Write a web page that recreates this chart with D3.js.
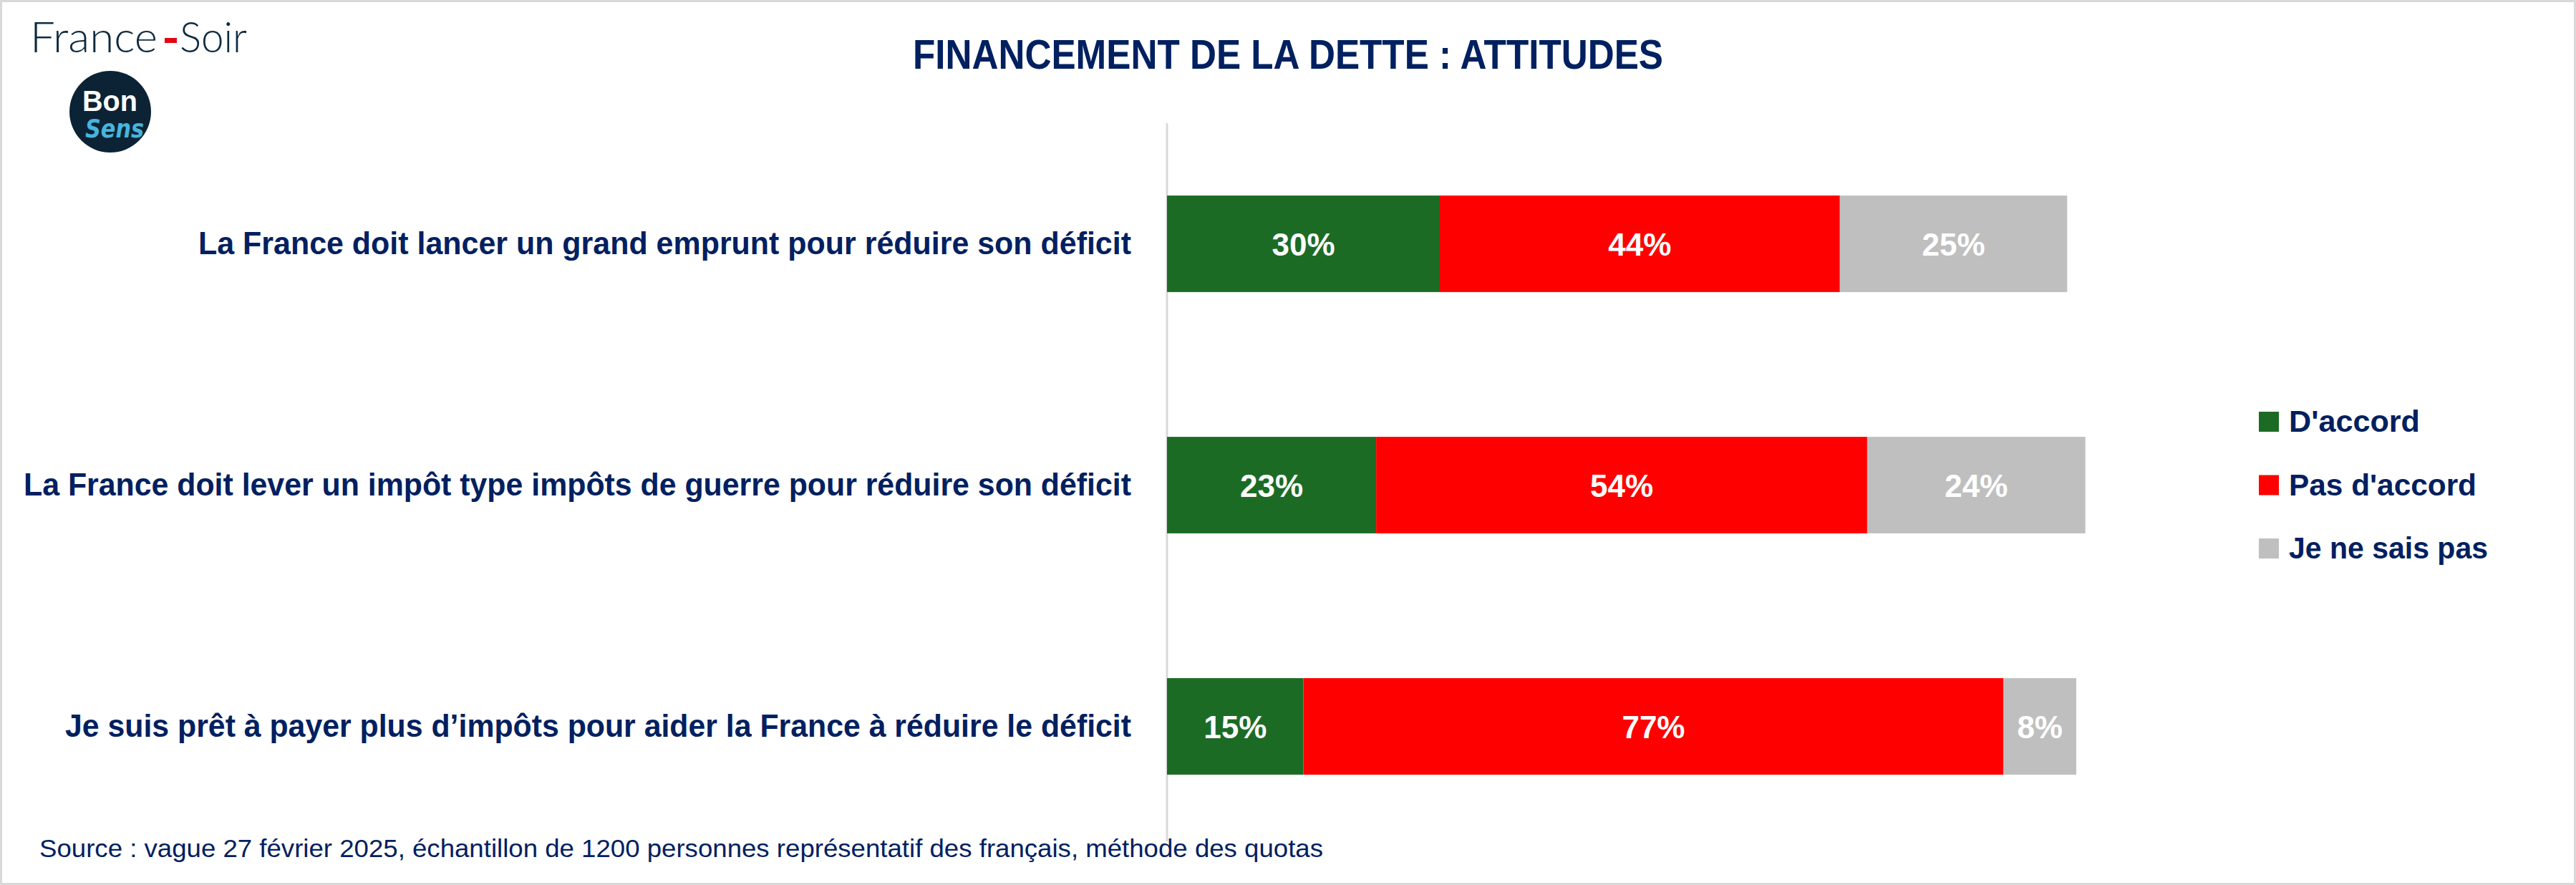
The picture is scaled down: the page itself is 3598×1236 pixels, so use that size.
<!DOCTYPE html>
<html>
<head>
<meta charset="utf-8">
<script src="https://cdn.jsdelivr.net/npm/d3@7"></script>
<style>
  html, body { margin: 0; padding: 0; background: #ffffff; }
  svg { display: block; }
</style>
</head>
<body>
<svg id="chart" width="3598" height="1236"></svg>
<script>
// ---------- DATA ----------
const categories = [
  "La France doit lancer un grand emprunt pour réduire son déficit",
  "La France doit lever un impôt type impôts de guerre pour réduire son déficit",
  "Je suis prêt à payer plus d’impôts pour aider la France à réduire le déficit"
];
const seriesNames = ["D'accord", "Pas d'accord", "Je ne sais pas"];
const daccord = [30, 23, 15];
const pasDaccord = [44, 54, 77];
const neSaisPas = [25, 24, 8];
const titleText = "FINANCEMENT DE LA DETTE : ATTITUDES";
const sourceText = "Source : vague 27 février 2025, échantillon de 1200 personnes représentatif des français, méthode des quotas";

// ---------- STYLE ----------
const colors = ["#1c6b25", "#ff0000", "#bfbfbf"];
const navy = "#002060";
const W = 3598, H = 1236;

const svg = d3.select("#chart");

function fit(sel, target) {
  sel.each(function () {
    const len = this.getComputedTextLength();
    if (Math.abs(len - target) > 2) {
      d3.select(this).attr("textLength", target).attr("lengthAdjust", "spacingAndGlyphs");
    }
  });
}

// background + border
svg.append("rect").attr("x", 0).attr("y", 0).attr("width", W).attr("height", H).attr("fill", "#fff");
svg.append("rect").attr("x", 1.5).attr("y", 1.5).attr("width", W - 3).attr("height", H - 3)
  .attr("fill", "none").attr("stroke", "#d9d9d9").attr("stroke-width", 3);

// ---------- LOGO ----------
const logo = svg.append("g");
const lf = "Lato, 'Open Sans', 'DejaVu Sans', sans-serif";
logo.append("text").attr("x", 42).attr("y", 73).attr("font-family", lf).attr("font-weight", 300)
  .attr("font-size", 60).attr("fill", "#0e2a3f").text("France").call(fit, 178);
logo.append("rect").attr("x", 230).attr("y", 53).attr("width", 17).attr("height", 7).attr("fill", "#e30613");
logo.append("text").attr("x", 251).attr("y", 73).attr("font-family", lf).attr("font-weight", 300)
  .attr("font-size", 60).attr("fill", "#0e2a3f").text("Soir").call(fit, 94);
logo.append("circle").attr("cx", 154).attr("cy", 156).attr("r", 57).attr("fill", "#0b2334");
logo.append("text").attr("x", 115).attr("y", 155).attr("font-family", "'Liberation Sans', Arial, sans-serif")
  .attr("font-weight", 700).attr("font-size", 41).attr("fill", "#ffffff").text("Bon").call(fit, 77);
logo.append("text").attr("x", 119).attr("y", 192).attr("font-family", "'DejaVu Sans', sans-serif")
  .attr("font-style", "italic").attr("font-weight", 700).attr("font-size", 36).attr("fill", "#48b4de")
  .text("Sens").call(fit, 82);

// ---------- TITLE ----------
svg.append("text").attr("x", W / 2).attr("y", 96).attr("text-anchor", "middle")
  .attr("font-family", "'Liberation Sans Narrow', 'Liberation Sans', Arial, sans-serif")
  .attr("font-weight", 700).attr("font-size", 58).attr("fill", navy)
  .text(titleText).call(fit, 1048);

// ---------- SCALES ----------
const x = d3.scaleLinear().domain([0, 100]).range([1630, 2900]);
const y = d3.scaleBand().domain(categories).range([172, 1183]).paddingInner(0.6).paddingOuter(0.3);

const table = categories.map((c, i) => ({
  cat: c, [seriesNames[0]]: daccord[i], [seriesNames[1]]: pasDaccord[i], [seriesNames[2]]: neSaisPas[i]
}));
const stacked = d3.stack().keys(seriesNames)(table);

// axis line
svg.append("line").attr("x1", x(0)).attr("x2", x(0)).attr("y1", 172).attr("y2", 1175)
  .attr("stroke", "#d9d9d9").attr("stroke-width", 3);

// bars
const layers = svg.append("g").selectAll("g").data(stacked).join("g")
  .attr("fill", (d, i) => colors[i]);
layers.selectAll("rect").data(d => d).join("rect")
  .attr("x", d => x(d[0]))
  .attr("y", d => y(d.data.cat))
  .attr("width", d => x(d[1]) - x(d[0]))
  .attr("height", y.bandwidth());

// value labels
layers.selectAll("text").data(d => d).join("text")
  .attr("x", d => (x(d[0]) + x(d[1])) / 2)
  .attr("y", d => y(d.data.cat) + y.bandwidth() / 2 + 16)
  .attr("text-anchor", "middle")
  .attr("font-family", "'Liberation Sans', Arial, sans-serif")
  .attr("font-weight", 700).attr("font-size", 44).attr("fill", "#ffffff")
  .text(d => (d[1] - d[0]) + "%");

// category labels
const labelWidths = [1303, 1547, 1489];
svg.append("g").selectAll("text").data(categories).join("text")
  .attr("x", 1580)
  .attr("y", d => y(d) + y.bandwidth() / 2 + 14)
  .attr("text-anchor", "end")
  .attr("font-family", "'Liberation Sans Narrow', 'Liberation Sans', Arial, sans-serif")
  .attr("font-weight", 700).attr("font-size", 45).attr("fill", navy)
  .text(d => d)
  .each(function (d, i) { d3.select(this).call(fit, labelWidths[i]); });

// ---------- LEGEND ----------
const legendY = d3.scalePoint().domain(seriesNames).range([575, 752]);
const lg = svg.append("g").selectAll("g").data(seriesNames).join("g");
lg.append("rect").attr("x", 3155).attr("y", d => legendY(d)).attr("width", 28).attr("height", 28)
  .attr("fill", (d, i) => colors[i]);
const legendWidths = [183, 262, 278];
lg.append("text").attr("x", 3197).attr("y", d => legendY(d) + 28)
  .attr("font-family", "'Liberation Sans', Arial, sans-serif")
  .attr("font-weight", 700).attr("font-size", 42).attr("fill", navy)
  .text(d => d)
  .each(function (d, i) { d3.select(this).call(fit, legendWidths[i]); });

// ---------- SOURCE ----------
svg.append("text").attr("x", 55).attr("y", 1197)
  .attr("font-family", "'Liberation Sans', Arial, sans-serif")
  .attr("font-size", 35).attr("fill", navy)
  .text(sourceText).call(fit, 1793);
</script>
</body>
</html>
